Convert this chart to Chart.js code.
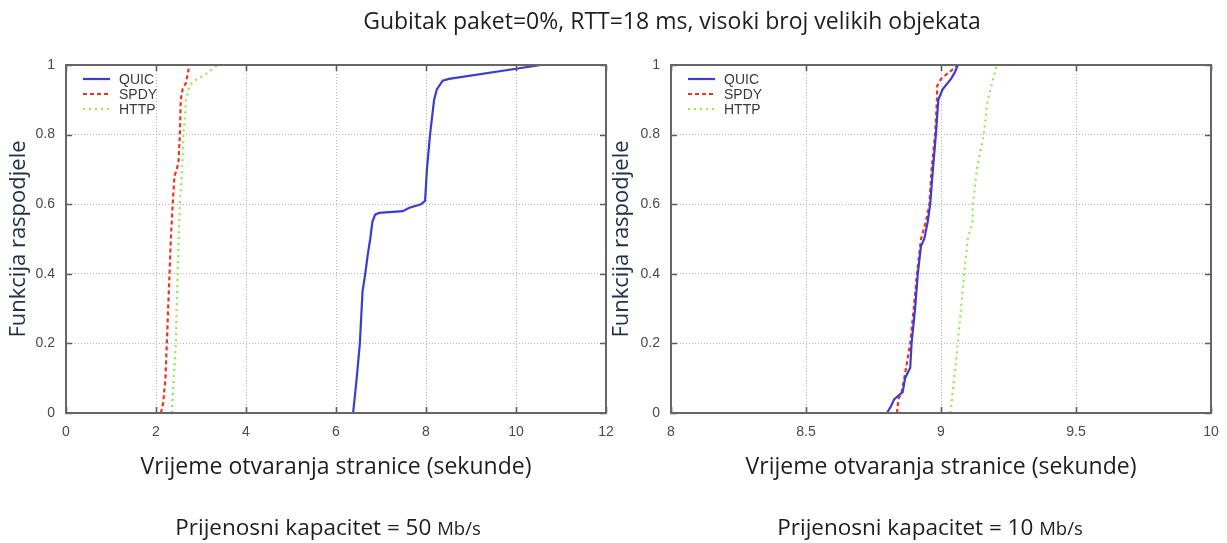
<!DOCTYPE html>
<html>
<head>
<meta charset="utf-8">
<script src="https://cdn.jsdelivr.net/npm/chart.js@4/dist/chart.umd.min.js"></script>
<style>
  html, body { margin: 0; padding: 0; background: #ffffff; }
  body { width: 1227px; height: 543px; position: relative; overflow: hidden; font-family: "Open Sans", sans-serif; }
  #title { position: absolute; left: 0; width: 1344px; top: 4px; line-height: 32px; text-align: center; font-size: 23px; color: #1e1e1e; z-index: 5; white-space: nowrap; }
  .cap { position: absolute; top: 511px; line-height: 32px; text-align: center; font-size: 22.5px; color: #1e1e1e; white-space: nowrap; z-index: 5; }
  .cap small { font-size: 18.5px; }
  #capL { left: 28px; width: 600px; }
  #capR { left: 630px; width: 600px; }
  canvas { position: absolute; top: 0; }
  #cL { left: 0; }
  #cR { left: 600px; }
</style>
</head>
<body>
<div id="title">Gubitak paket=0%, RTT=18 ms, visoki broj velikih objekata</div>
<canvas id="cL" width="615" height="543"></canvas>
<canvas id="cR" width="627" height="543"></canvas>
<div class="cap" id="capL">Prijenosni kapacitet = 50 <small>Mb/s</small></div>
<div class="cap" id="capR">Prijenosni kapacitet = 10 <small>Mb/s</small></div>
<script>
// ---------- data (page-load time in seconds vs. CDF value) ----------
const seriesNames = ['QUIC', 'SPDY', 'HTTP'];

// Left panel: 50 Mb/s
const leftQuicT = [6.38, 6.46, 6.53, 6.59, 6.65, 6.70, 6.76, 6.81, 6.87, 6.96, 7.48, 7.63, 7.89, 7.98, 8.02, 8.09, 8.18, 8.24, 8.37, 8.51, 10.04, 10.55];
const leftQuicP = [0.00, 0.10, 0.20, 0.35, 0.40, 0.45, 0.50, 0.55, 0.57, 0.575, 0.58, 0.59, 0.60, 0.61, 0.70, 0.80, 0.90, 0.93, 0.955, 0.96, 0.99, 1.00];
const leftSpdyT = [2.11, 2.16, 2.21, 2.24, 2.30, 2.33, 2.37, 2.41, 2.46, 2.50, 2.53, 2.55, 2.59, 2.67, 2.74];
const leftSpdyP = [0.00, 0.03, 0.10, 0.20, 0.40, 0.50, 0.60, 0.68, 0.70, 0.72, 0.80, 0.90, 0.93, 0.95, 1.00];
const leftHttpT = [2.35, 2.44, 2.48, 2.53, 2.58, 2.61, 2.67, 2.74, 2.85, 3.07, 3.37];
const leftHttpP = [0.00, 0.20, 0.40, 0.60, 0.70, 0.80, 0.90, 0.94, 0.955, 0.97, 1.00];

// Right panel: 10 Mb/s
const rightQuicT = [8.800, 8.815, 8.827, 8.858, 8.867, 8.886, 8.891, 8.904, 8.914, 8.926, 8.938, 8.951, 8.960, 8.970, 8.981, 8.990, 9.006, 9.037, 9.052, 9.062];
const rightQuicP = [0.00, 0.02, 0.04, 0.06, 0.10, 0.13, 0.20, 0.30, 0.40, 0.48, 0.50, 0.55, 0.60, 0.70, 0.80, 0.90, 0.93, 0.96, 0.98, 1.00];
const rightSpdyT = [8.837, 8.842, 8.854, 8.864, 8.886, 8.899, 8.911, 8.926, 8.944, 8.957, 8.965, 8.978, 8.985, 8.986, 9.000, 9.031, 9.064];
const rightSpdyP = [0.00, 0.04, 0.06, 0.10, 0.20, 0.30, 0.40, 0.50, 0.55, 0.60, 0.70, 0.80, 0.90, 0.94, 0.96, 0.98, 1.00];
const rightHttpT = [9.035, 9.049, 9.062, 9.074, 9.086, 9.099, 9.117, 9.118, 9.133, 9.158, 9.173, 9.207];
const rightHttpP = [0.00, 0.10, 0.20, 0.30, 0.40, 0.50, 0.55, 0.60, 0.70, 0.80, 0.90, 1.00];

// tick labels
const leftXTicks = [0, 2, 4, 6, 8, 10, 12];
const rightXTicks = [8, 8.5, 9, 9.5, 10];
const yTicks = [0, 0.2, 0.4, 0.6, 0.8, 1];

const xTitle = 'Vrijeme otvaranja stranice (sekunde)';
const yTitle = 'Funkcija raspodjele';

// ---------- styling ----------
const styles = [
  { borderColor: '#3b3bd6', borderWidth: 2.2, borderDash: [] },
  { borderColor: '#f5311c', borderWidth: 2.2, borderDash: [4, 3] },
  { borderColor: '#8eea45', borderWidth: 2.2, borderDash: [2, 4] }
];

function pts(t, p) { return t.map((v, i) => ({ x: v, y: p[i] })); }

const framePlugin = {
  id: 'frameTicks',
  afterDatasetsDraw(chart) {
    const { ctx, chartArea: a } = chart;
    const xs = chart.scales.x, ys = chart.scales.y;
    ctx.save();
    ctx.strokeStyle = '#5c5c5c';
    ctx.lineWidth = 1.6;
    ctx.setLineDash([]);
    ctx.beginPath();
    const L = 6;
    xs.ticks.forEach(t => {
      const px = Math.round(xs.getPixelForValue(t.value)) + 0.5;
      ctx.moveTo(px, a.bottom); ctx.lineTo(px, a.bottom - L);
      ctx.moveTo(px, a.top); ctx.lineTo(px, a.top + L);
    });
    ys.ticks.forEach(t => {
      const py = Math.round(ys.getPixelForValue(t.value)) + 0.5;
      ctx.moveTo(a.left, py); ctx.lineTo(a.left + L, py);
      ctx.moveTo(a.right, py); ctx.lineTo(a.right - L, py);
    });
    ctx.stroke();
    ctx.lineWidth = 2;
    ctx.strokeStyle = '#666666';
    ctx.strokeRect(a.left, a.top, a.right - a.left, a.bottom - a.top);
    // legend
    chart.data.datasets.forEach((ds, i) => {
      const y = a.top + 14 + i * 15;
      ctx.strokeStyle = ds.borderColor;
      ctx.lineWidth = ds.borderWidth;
      ctx.setLineDash(ds.borderDash || []);
      ctx.beginPath();
      ctx.moveTo(a.left + 17, y); ctx.lineTo(a.left + 44, y);
      ctx.stroke();
      ctx.setLineDash([]);
      ctx.fillStyle = '#3a3a3a';
      ctx.font = '14px "Liberation Sans", Arial, sans-serif';
      ctx.textBaseline = 'middle';
      ctx.textAlign = 'left';
      ctx.fillText(ds.label, a.left + 53, y + 1);
    });
    ctx.restore();
  }
};

function makeChart(id, data, xMin, xMax, xTicks, cfg) {
  const datasets = data.map((d, i) => Object.assign({
    label: seriesNames[i],
    data: d,
    showLine: true,
    pointRadius: 0,
    tension: 0,
    fill: false
  }, styles[i]));
  return new Chart(document.getElementById(id), {
    type: 'scatter',
    data: { datasets },
    options: {
      responsive: false,
      animation: false,
      events: [],
      layout: { padding: { left: 0, right: cfg.padRight, top: 65, bottom: 61 } },
      plugins: { legend: { display: false }, tooltip: { enabled: false } },
      scales: {
        x: {
          type: 'linear', min: xMin, max: xMax,
          afterBuildTicks: s => { s.ticks = xTicks.map(v => ({ value: v })); },
          afterFit: s => { s.height = 69; s.paddingLeft = 0; s.paddingRight = 0; },
          ticks: { callback: v => String(v), color: '#4a4a4a', padding: 11, maxRotation: 0, autoSkip: false,
                   font: { family: '"Liberation Sans", Arial, sans-serif', size: 14 } },
          grid: { color: '#b5b5b5', lineWidth: 1, drawTicks: false },
          border: { display: false, dash: [1, 2] },
          title: { display: true, text: xTitle, color: '#1e1e1e', padding: { top: 4, bottom: 1 },
                   font: { family: '"Open Sans", sans-serif', size: 23 } }
        },
        y: {
          type: 'linear', min: 0, max: 1,
          afterBuildTicks: s => { s.ticks = yTicks.map(v => ({ value: v })); },
          afterFit: s => { s.width = cfg.yWidth; s.paddingTop = 0; s.paddingBottom = 0; },
          ticks: { callback: v => String(v), color: '#4a4a4a', padding: 11,
                   font: { family: '"Liberation Sans", Arial, sans-serif', size: 14 } },
          grid: { color: '#b5b5b5', lineWidth: 1, drawTicks: false },
          border: { display: false, dash: [1, 2] },
          title: { display: true, text: yTitle, color: '#22304c', padding: { top: cfg.yTitlePad, bottom: 0 },
                   font: { family: '"Open Sans", sans-serif', size: 22 } }
        }
      }
    },
    plugins: [framePlugin]
  });
}

makeChart('cL',
  [pts(leftQuicT, leftQuicP), pts(leftSpdyT, leftSpdyP), pts(leftHttpT, leftHttpP)],
  0, 12, leftXTicks, { padRight: 9, yWidth: 66, yTitlePad: 6 });

makeChart('cR',
  [pts(rightQuicT, rightQuicP), pts(rightSpdyT, rightSpdyP), pts(rightHttpT, rightHttpP)],
  8, 10, rightXTicks, { padRight: 16, yWidth: 71, yTitlePad: 9 });
</script>
</body>
</html>
